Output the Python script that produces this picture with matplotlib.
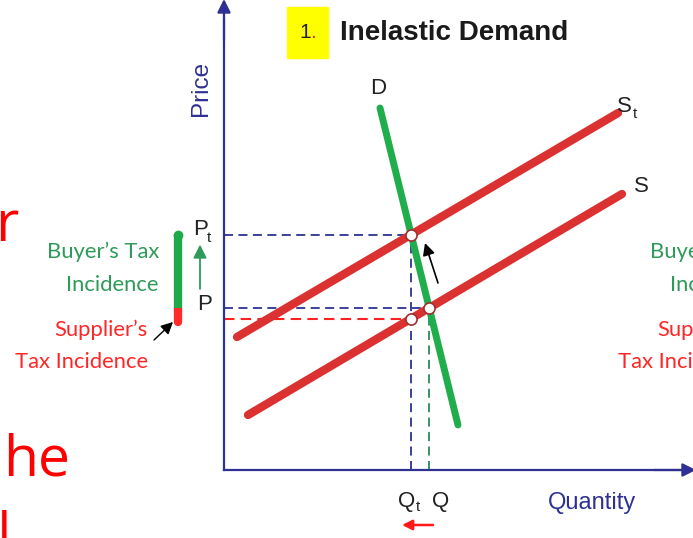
import matplotlib
matplotlib.use('Agg')
import matplotlib.pyplot as plt
import numpy as np
from matplotlib.patches import Rectangle

# ---- data (quantity, price) in chart units ----
demand_q = [15.6, 23.4]
demand_p = [36.2, 4.5]
supply_q = [2.4, 39.8]
supply_p = [5.5, 27.6]
supply_tax_q = [1.3, 39.4]
supply_tax_p = [13.3, 35.7]

title_num = "1"
title_text = "Inelastic Demand"
x_label = "Quantity"
y_label = "Price"
buyer_lines = ["Buyer\u2019s Tax", "Incidence"]
supplier_lines = ["Supplier\u2019s", "Tax Incidence"]

navy = '#2e3192'
red_line = '#dc3131'
green_line = '#1fae4b'
green_text = '#2f9a5a'
red_text = '#ff2626'


def slope_icept(q, p):
    m = (p[1] - p[0]) / (q[1] - q[0])
    return m, p[0] - m * q[0]


def intersect(qa, pa, qb, pb):
    m1, b1 = slope_icept(qa, pa)
    m2, b2 = slope_icept(qb, pb)
    q = (b2 - b1) / (m1 - m2)
    return q, m1 * q + b1


Q, P = intersect(demand_q, demand_p, supply_q, supply_p)
Qt, Pt = intersect(demand_q, demand_p, supply_tax_q, supply_tax_p)
ms, bs = slope_icept(supply_q, supply_p)
Ps = ms * Qt + bs

fig = plt.figure(figsize=(6.93, 5.38), dpi=100)
ax = fig.add_axes([0, 0, 1, 1])
ax.set_xlim(-22.4, 46.9)
ax.set_ylim(-6.8, 47.0)
ax.axis('off')

# axes with arrows
ax.plot([0, 0], [0, 45], color=navy, lw=1.6, zorder=2)
ax.plot([0, 46], [0, 0], color=navy, lw=1.6, zorder=2)
ax.annotate('', xy=(0, 47.1), xytext=(0, 43), annotation_clip=False,
            arrowprops=dict(arrowstyle='-|>', color=navy, lw=1.6,
                            mutation_scale=20, shrinkA=0, shrinkB=0))
ax.annotate('', xy=(47.2, 0), xytext=(43, 0), annotation_clip=False,
            arrowprops=dict(arrowstyle='-|>', color=navy, lw=1.6,
                            mutation_scale=20, shrinkA=0, shrinkB=0))

# dashed guide lines
dash = (0, (5, 3))
ax.plot([0, Qt], [Pt, Pt], ls=dash, color=navy, lw=1.3, zorder=1)
ax.plot([Qt, Qt], [0, Pt], ls=dash, color=navy, lw=1.3, zorder=1)
ax.plot([0, Q], [P, P], ls=dash, color=navy, lw=1.3, zorder=1)
ax.plot([Q, Q], [0, P], ls=dash, color='#2a8a5a', lw=1.3, zorder=1)
ax.plot([0, Qt], [Ps, Ps], ls=dash, color='#ff2020', lw=1.5, zorder=1)

# curves
ax.plot(supply_q, supply_p, color=red_line, lw=6, solid_capstyle='round', zorder=3)
ax.plot(supply_tax_q, supply_tax_p, color=red_line, lw=6, solid_capstyle='round', zorder=3)
ax.plot(demand_q, demand_p, color=green_line, lw=5, solid_capstyle='round', zorder=4)

# equilibrium markers
ax.plot([Qt, Q, Qt], [Pt, P, Ps], 'o', ms=8, mfc='white', mec='#a03030', mew=1.2, zorder=6)

# curve labels
lbl = dict(family='Liberation Sans', color='#222222')
ax.text(demand_q[0] - 0.2, demand_p[0] + 1.9, 'D', fontsize=16, ha='center', va='center', **lbl)
ax.text(supply_tax_q[1] - 0.1, supply_tax_p[1] + 0.6, 'S', fontsize=16, ha='left', va='center', **lbl)
ax.text(supply_tax_q[1] + 1.5, supply_tax_p[1] - 0.1, 't', fontsize=11, ha='left', va='center', **lbl)
ax.text(supply_q[1] + 1.2, supply_p[1] + 0.8, 'S', fontsize=16, ha='left', va='center', **lbl)

# price labels
ax.text(-3.1, Pt + 0.5, 'P', fontsize=16, ha='left', va='center', **lbl)
ax.text(-1.7, Pt - 0.3, 't', fontsize=11, ha='left', va='center', **lbl)
ax.text(-2.7, P + 0.3, 'P', fontsize=16, ha='left', va='center', **lbl)

# quantity labels
ax.text(Qt - 1.3, -3.2, 'Q', fontsize=16, ha='left', va='center', **lbl)
ax.text(Qt + 0.5, -3.7, 't', fontsize=11, ha='left', va='center', **lbl)
ax.text(Q + 0.3, -3.2, 'Q', fontsize=16, ha='left', va='center', **lbl)

# axis titles
ax.text(36.8, -3.3, x_label, fontsize=17, color=navy, family='Liberation Sans', ha='center', va='center')
ax.text(-2.3, 38.2, y_label, fontsize=17.5, color=navy, family='Liberation Sans', ha='center', va='center',
        rotation=90)

# title
ax.add_patch(Rectangle((6.3, 41.2), 4.1, 5.1, color='#ffff00', zorder=2))
ax.text(7.5, 43.7, title_num, fontsize=15, ha='left', va='center', family='Liberation Sans', color='#222222', zorder=3)
ax.text(8.6, 43.7, '.', fontsize=15, ha='left', va='center', family='Liberation Sans', color='#d03030', zorder=3)
ax.text(11.6, 43.7, title_text, fontsize=20, ha='left', va='center', family='Liberation Sans',
        fontweight='bold', color='#1a1a1a')

# arrows
ax.annotate('', xy=(20.1, 22.7), xytext=(21.4, 18.7),
            arrowprops=dict(arrowstyle='-|>', color='black', lw=1.2, mutation_scale=18, shrinkA=0, shrinkB=0))
ax.annotate('', xy=(17.8, -5.5), xytext=(20.9, -5.5),
            arrowprops=dict(arrowstyle='-|>', color='#ff1a1a', lw=1.8, mutation_scale=15, shrinkA=0, shrinkB=0))
ax.annotate('', xy=(-2.4, Pt - 1.0), xytext=(-2.4, P + 1.9),
            arrowprops=dict(arrowstyle='-|>', color='#2f9a5a', lw=1.3, mutation_scale=20, shrinkA=0, shrinkB=0))
ax.annotate('', xy=(-5.1, 14.8), xytext=(-7.0, 13.0),
            arrowprops=dict(arrowstyle='-|>', color='black', lw=1.0, mutation_scale=18, shrinkA=0, shrinkB=0))

# incidence bar
ax.plot([-4.6, -4.6], [Ps - 0.3, P], color='#ff2a2a', lw=6, solid_capstyle='round', zorder=3)
ax.plot([-4.6, -4.6], [P, Pt], color='#1faa4a', lw=6, solid_capstyle='butt', zorder=4)
ax.plot([-4.6], [Pt], 'o', ms=6, color='#1faa4a', zorder=4)

# incidence text (left and right copies)
tf = dict(family='Lato', fontsize=15.8)
for xr_b, xr_s in [(-6.5, -7.6), (53.8, 52.7)]:
    ax.text(xr_b, 21.8, buyer_lines[0], ha='right', va='center', color=green_text, **tf)
    ax.text(xr_b, 18.5, buyer_lines[1], ha='right', va='center', color=green_text, **tf)
    ax.text(xr_s, 14.0, supplier_lines[0], ha='right', va='center', color=red_text, **tf)
    ax.text(xr_s, 10.8, supplier_lines[1], ha='right', va='center', color=red_text, **tf)

# cropped slide text on the left
big = dict(family='Open Sans', fontsize=41, color='#ff0000')
ax.text(-20.6, 22.9, 'r', ha='right', va='baseline', **big)
ax.text(-22.1, -0.5, 'he', ha='left', va='baseline', **big)
ax.text(-21.3, -8.1, 'N', ha='right', va='baseline', **big)

fig.savefig('out.png', dpi=100)
